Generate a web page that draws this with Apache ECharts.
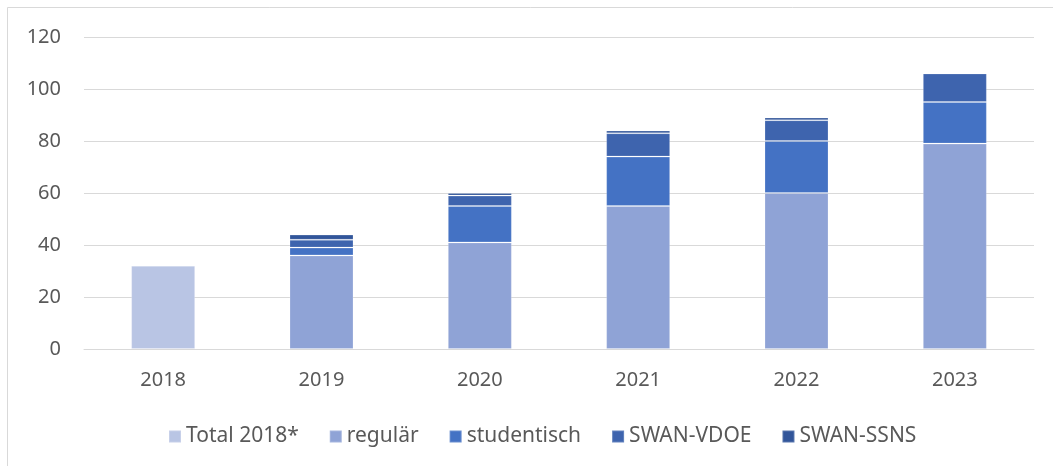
<!DOCTYPE html>
<html>
<head>
<meta charset="utf-8">
<script src="https://cdn.jsdelivr.net/npm/echarts@6/dist/echarts.min.js"></script>
<style>
html,body{margin:0;padding:0;background:#fff;}
#chart{width:1053px;height:466px;}
</style>
</head>
<body>
<div id="chart"></div>
<script>
const categories = ['2018', '2019', '2020', '2021', '2022', '2023'];
const total2018 = [32, null, null, null, null, null];
const regular = [null, 36, 41, 55, 60, 79];
const studentisch = [null, 3, 14, 19, 20, 16];
const swanVdoe = [null, 3, 4, 9, 8, 11];
const swanSsns = [null, 2, 1, 1, 1, 0];
const yTicks = { min: 0, max: 120, interval: 20 };

const font = 'Noto Sans';
const seriesDefs = [
  { name: 'Total 2018*', data: total2018, color: '#B9C5E4' },
  { name: 'regulär', data: regular, color: '#8FA3D6' },
  { name: 'studentisch', data: studentisch, color: '#4472C4' },
  { name: 'SWAN-VDOE', data: swanVdoe, color: '#3E64AE' },
  { name: 'SWAN-SSNS', data: swanSsns, color: '#31559A' }
];

const chart = echarts.init(document.getElementById('chart'), null, { renderer: 'canvas' });
chart.setOption({
  animation: false,
  backgroundColor: '#fff',
  textStyle: { fontFamily: font },
  graphic: [{
    type: 'rect',
    shape: { x: 7.5, y: 7.5, width: 1100, height: 500 },
    style: { fill: 'none', stroke: '#D9D9D9', lineWidth: 1 },
    silent: true
  }],
  grid: { left: 84, right: 19, top: 37, bottom: 117, containLabel: false },
  legend: {
    left: 163, top: 421,
    itemWidth: 12, itemHeight: 12, itemGap: 30,
    icon: 'rect',
    textStyle: { fontFamily: font, fontSize: 21, color: '#595959' },
    data: seriesDefs.map(s => s.name)
  },
  xAxis: {
    type: 'category',
    data: categories,
    axisLine: { lineStyle: { color: '#D9D9D9', width: 1 } },
    axisTick: { show: false },
    axisLabel: { fontFamily: font, fontSize: 20, color: '#595959', margin: 21 }
  },
  yAxis: {
    type: 'value',
    min: yTicks.min, max: yTicks.max, interval: yTicks.interval,
    axisLine: { show: false },
    axisTick: { show: false },
    splitLine: { lineStyle: { color: '#D9D9D9', width: 1 } },
    axisLabel: { fontFamily: font, fontSize: 20, color: '#595959', margin: 23 }
  },
  series: seriesDefs.map(s => ({
    name: s.name,
    type: 'bar',
    stack: 'all',
    barWidth: 64,
    data: s.data,
    itemStyle: { color: s.color, borderColor: 'rgba(255,255,255,0.2)', borderWidth: 1 }
  }))
});
</script>
</body>
</html>
